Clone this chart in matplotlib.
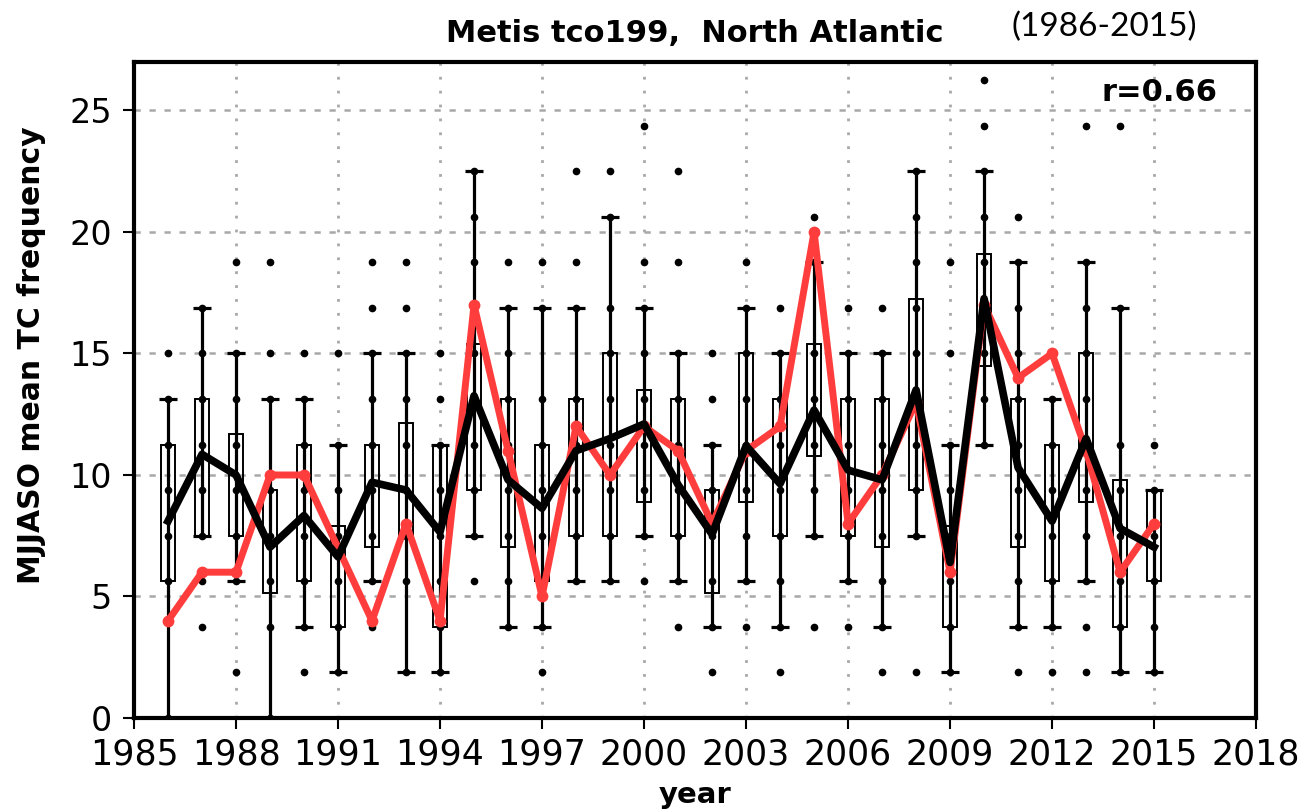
import matplotlib
matplotlib.use("Agg")
import matplotlib.pyplot as plt

# model members come in steps of 15/8 TC per season
step = 1.875

years = list(range(1986, 2016))

# ensemble member levels (multiples of step) seen as dots for each year
dots = [
    [0, 3, 4, 5, 6, 7, 8],
    [2, 3, 4, 5, 6, 7, 8, 9],
    [1, 3, 4, 5, 6, 7, 8, 10],
    [0, 2, 3, 4, 5, 7, 8, 10],
    [1, 2, 3, 4, 5, 6, 7, 8],
    [1, 2, 3, 4, 5, 6, 8],
    [2, 3, 4, 5, 6, 7, 8, 9, 10],
    [1, 3, 4, 5, 6, 7, 8, 9, 10],
    [1, 2, 3, 4, 5, 6, 7, 8],
    [3, 4, 5, 6, 7, 8, 10, 11, 12],
    [2, 3, 4, 5, 6, 7, 8, 9, 10],
    [1, 2, 3, 4, 5, 6, 7, 9, 10],
    [3, 4, 5, 6, 7, 9, 10, 12],
    [3, 4, 5, 6, 7, 8, 9, 11, 12],
    [3, 4, 5, 6, 7, 8, 9, 10, 13],
    [2, 3, 4, 5, 6, 7, 8, 10, 12],
    [1, 2, 3, 4, 5, 6, 7, 8],
    [2, 3, 4, 5, 6, 7, 8, 9, 10],
    [1, 2, 3, 4, 5, 6, 7, 8, 9],
    [2, 4, 5, 6, 7, 8, 10, 11],
    [2, 3, 4, 5, 6, 7, 8, 9],
    [1, 2, 3, 4, 5, 6, 7, 8, 9],
    [1, 4, 5, 6, 7, 8, 9, 10, 11, 12],
    [1, 2, 3, 4, 5, 6, 8, 10],
    [6, 7, 8, 9, 10, 11, 12, 13, 14],
    [1, 2, 3, 4, 5, 6, 7, 8, 9, 10, 11],
    [1, 2, 3, 4, 5, 6, 7],
    [1, 2, 3, 4, 5, 6, 7, 8, 9, 10, 13],
    [1, 2, 3, 4, 5, 6, 9, 13],
    [1, 2, 3, 4, 5, 6],
]

box_lo = [5.625, 7.5, 7.5, 5.16, 5.625, 3.75, 7.03, 7.5, 3.75, 9.375,
          7.03, 5.625, 7.5, 7.5, 8.9, 7.5, 5.16, 8.9, 7.5, 10.77,
          7.5, 7.03, 9.375, 3.75, 14.5, 7.03, 5.625, 8.9, 3.75, 5.625]
box_hi = [11.25, 13.125, 11.7, 9.375, 11.25, 7.92, 11.25, 12.14, 11.25, 15.4,
          13.125, 11.25, 13.125, 15.0, 13.5, 13.125, 9.375, 15.0, 13.125, 15.4,
          13.125, 13.125, 17.26, 7.92, 19.1, 13.125, 11.25, 15.0, 9.79, 9.375]
whis_lo = [0, 7.5, 5.625, 0, 3.75, 1.875, 5.625, 1.875, 1.875, 7.5,
           3.75, 3.75, 5.625, 5.625, 7.5, 5.625, 3.75, 5.625, 3.75, 7.5,
           5.625, 3.75, 7.5, 1.875, 11.25, 3.75, 3.75, 5.625, 1.875, 1.875]
whis_hi = [13.125, 16.875, 15.0, 13.125, 13.125, 11.25, 15.0, 15.0, 11.25, 22.5,
           16.875, 16.875, 16.875, 20.625, 16.875, 15.0, 11.25, 16.875, 15.0, 18.75,
           15.0, 15.0, 22.5, 11.25, 22.5, 18.75, 13.125, 18.75, 16.875, 9.375]

obs = [4, 6, 6, 10, 10, 7, 4, 8, 4, 17, 11, 5, 12, 10, 12, 11, 8, 11, 12, 20,
       8, 10, 13, 6, 17, 14, 15, 11, 6, 8]
ens_mean = [8.1, 10.85, 10.0, 7.03, 8.33, 6.63, 9.7, 9.38, 7.65, 13.26,
            9.8, 8.63, 11.0, 11.5, 12.1, 9.6, 7.56, 11.2, 9.64, 12.67,
            10.2, 9.8, 13.5, 6.4, 17.26, 10.3, 8.1, 11.5, 7.8, 7.03]

fig = plt.figure(figsize=(13.01, 8.09), dpi=100)
ax = fig.add_axes([0.103, 0.1125, 0.8625, 0.811])

# grid
for yv in [5, 10, 15, 20, 25]:
    ax.axhline(yv, color='#a8a8a8', lw=1.8, ls=(0, (2.5, 3.5)), zorder=0)
for xv in range(1988, 2018, 3):
    ax.axvline(xv, color='#a8a8a8', lw=2.0, ls=(0, (1, 4)), zorder=0)

# members
for yr, lev in zip(years, dots):
    ax.plot([yr] * len(lev), [k * step for k in lev], 'o', color='black',
            ms=4.5, zorder=3)

# whiskers and boxes
ax.vlines(years, whis_lo, whis_hi, color='black', lw=2.3, zorder=2)
cap = 0.27
ax.hlines(whis_lo, [y - cap for y in years], [y + cap for y in years],
          color='black', lw=2.3, zorder=2)
ax.hlines(whis_hi, [y - cap for y in years], [y + cap for y in years],
          color='black', lw=2.3, zorder=2)
heights = [h - l for h, l in zip(box_hi, box_lo)]
ax.bar(years, heights, bottom=box_lo, width=0.42, fill=False,
       edgecolor='black', lw=1.4, zorder=2)

ax.plot(years, obs, color='#ff3d3d', lw=5, marker='o', ms=7.5, zorder=4)
ax.plot(years, ens_mean, color='black', lw=5.5, zorder=5)

ax.set_xlim(1985, 2018)
ax.set_ylim(0, 27)
ax.set_xticks(range(1985, 2019, 3))
ax.set_yticks([0, 5, 10, 15, 20, 25])
ax.tick_params(axis='both', direction='out', length=8, width=1.5,
               labelsize=25, top=False, right=False)
ax.tick_params(axis='x', pad=6)
ax.tick_params(axis='y', pad=8, labelsize=24)
for s in ax.spines.values():
    s.set_linewidth(3)

fig.text(0.024, 1 - 355 / 809, 'MJJASO mean TC frequency', rotation=90,
         ha='center', va='center', fontsize=21.5, fontweight='bold')
fig.text(0.534, 1 - 795 / 809, 'year', ha='center', va='center',
         fontsize=21, fontweight='bold')

ax.text(0.966, 0.954, 'r=0.66', transform=ax.transAxes, ha='right',
        va='center', fontsize=22, fontweight='bold')
fig.text(0.534, 1 - 34 / 809, 'Metis tco199,  North Atlantic', ha='center',
         va='center', fontsize=22, fontweight='bold')
fig.text(0.849, 1 - 27 / 809, '(1986-2015)', ha='center', va='center',
         fontsize=24, family='Lato')

fig.savefig('out.png', dpi=100)
